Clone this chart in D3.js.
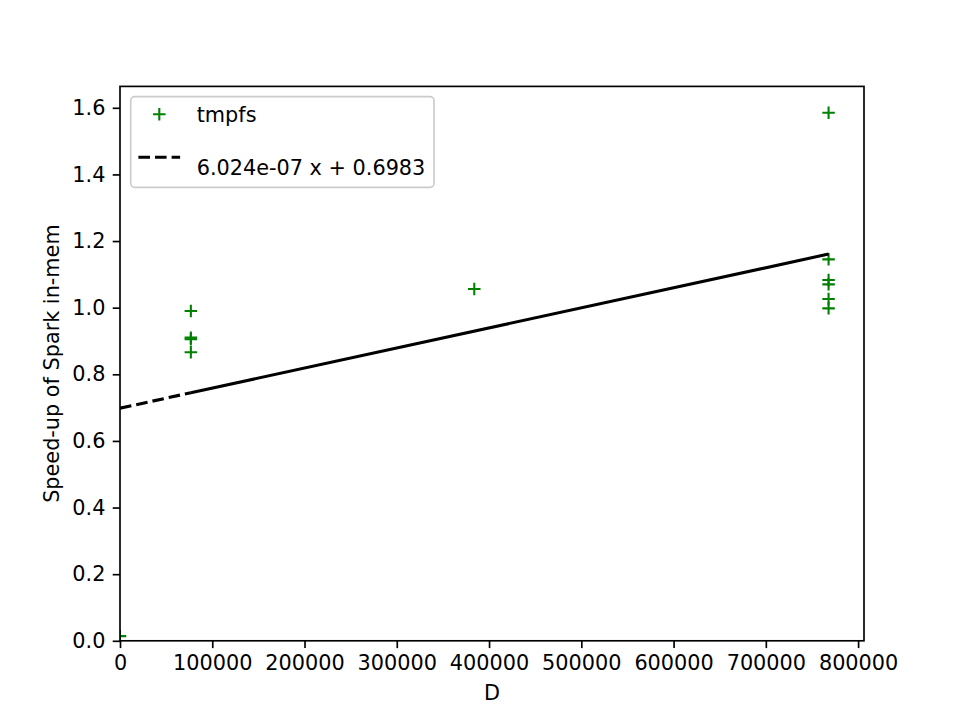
<!DOCTYPE html>
<html>
<head>
<meta charset="utf-8">
<script src="https://cdn.jsdelivr.net/npm/d3@7"></script>
<style>
  body { margin: 0; background: #fff; }
  svg { font-family: "DejaVu Sans", sans-serif; }
</style>
</head>
<body>
<svg id="chart" width="960" height="720"></svg>
<script>
var pointsX = [0, 76800, 76800, 76800, 76800, 384000, 768000, 768000, 768000, 768000, 768000, 768000];
var pointsY = [0.014, 0.99, 0.91, 0.905, 0.866, 1.056, 1.585, 1.145, 1.083, 1.070, 1.026, 0.998];
var seriesName = "tmpfs";
var fitSlope = 6.024e-07;
var fitIntercept = 0.6983;
var fitLabel = "6.024e-07 x + 0.6983";
var xTicks = [0, 100000, 200000, 300000, 400000, 500000, 600000, 700000, 800000];
var yTicks = [0, 0.2, 0.4, 0.6, 0.8, 1.0, 1.2, 1.4, 1.6];

var margin = { top: 86.4, right: 96, bottom: 79.2, left: 120 };
var width = 960 - margin.left - margin.right;
var height = 720 - margin.top - margin.bottom;
var green = "#008000";
var fontSize = 20.8;
var lineW = 3.1;
var dash = "11.6,5";

var svg = d3.select("#chart");

var xMax = d3.max(pointsX);
var yMax = d3.max(pointsY);
var x = d3.scaleLinear().domain([0, xMax * 1.05]).range([0, width]);
var y = d3.scaleLinear().domain([0, yMax * 1.05]).range([height, 0]);

svg.append("defs").append("clipPath").attr("id", "clip")
    .append("rect").attr("width", width).attr("height", height);

var g = svg.append("g")
    .attr("transform", "translate(" + margin.left + "," + margin.top + ")");

var plot = g.append("g").attr("clip-path", "url(#clip)");

// plus markers
var half = 6.25;
function plus(cx, cy) {
    return "M" + (cx - half) + "," + cy + "H" + (cx + half) +
           "M" + cx + "," + (cy - half) + "V" + (cy + half);
}
plot.selectAll("path.pt")
    .data(pointsX.map((d, i) => [d, pointsY[i]]))
    .enter().append("path")
    .attr("class", "pt")
    .attr("d", d => plus(x(d[0]), y(d[1])))
    .attr("stroke", green)
    .attr("stroke-width", 2.08)
    .attr("fill", "none");

// fitted line: dashed before the first nonzero D, solid across the data
var xFirst = d3.min(pointsX.filter(d => d > 0));
var fit = d => fitSlope * d + fitIntercept;
var line = d3.line().x(d => x(d)).y(d => y(fit(d)));

plot.append("path")
    .attr("d", line([0, xFirst]))
    .attr("stroke", "#000")
    .attr("stroke-width", lineW)
    .attr("stroke-dasharray", dash)
    .attr("fill", "none");

plot.append("path")
    .attr("d", line([xFirst, xMax]))
    .attr("stroke", "#000")
    .attr("stroke-width", lineW)
    .attr("fill", "none");

// axes
var xAxis = g.append("g")
    .attr("transform", "translate(0," + height + ")")
    .call(d3.axisBottom(x).tickValues(xTicks).tickFormat(d3.format("d"))
        .tickSizeInner(7.3).tickSizeOuter(0).tickPadding(7.3));

var yAxis = g.append("g")
    .call(d3.axisLeft(y).tickValues(yTicks).tickFormat(d3.format(".1f"))
        .tickSizeInner(7.3).tickSizeOuter(0).tickPadding(7.3));

[xAxis, yAxis].forEach(function (a) {
    a.selectAll("text").style("font-size", fontSize + "px")
        .style("font-family", "DejaVu Sans").attr("fill", "#000");
    a.selectAll("line").attr("stroke", "#000").attr("stroke-width", 1.67);
    a.select(".domain").remove();
});

// spines
g.append("rect")
    .attr("width", width).attr("height", height)
    .attr("fill", "none").attr("stroke", "#000").attr("stroke-width", 1.67);

// axis labels
g.append("text")
    .attr("x", width / 2)
    .attr("y", height + 59.2)
    .attr("text-anchor", "middle")
    .style("font-size", fontSize + "px")
    .text("D");

g.append("text")
    .attr("transform", "rotate(-90)")
    .attr("x", -height / 2)
    .attr("y", -61)
    .attr("text-anchor", "middle")
    .style("font-size", fontSize + "px")
    .text("Speed-up of Spark in-mem");

// legend
var legend = svg.append("g").attr("transform", "translate(130.7,96.7)");
legend.append("rect")
    .attr("width", 303.3).attr("height", 90.6)
    .attr("rx", 4).attr("ry", 4)
    .attr("fill", "#fff").attr("fill-opacity", 0.8)
    .attr("stroke", "#cccccc").attr("stroke-width", 1.67);

legend.append("path")
    .attr("d", plus(28.6, 17.6))
    .attr("stroke", green).attr("stroke-width", 2.08).attr("fill", "none");
legend.append("text")
    .attr("x", 66).attr("y", 25)
    .style("font-size", fontSize + "px")
    .text(seriesName);

legend.append("line")
    .attr("x1", 7.7).attr("x2", 49.4)
    .attr("y1", 60.6).attr("y2", 60.6)
    .attr("stroke", "#000").attr("stroke-width", lineW)
    .attr("stroke-dasharray", dash);
legend.append("text")
    .attr("x", 66).attr("y", 78.3)
    .style("font-size", fontSize + "px")
    .text(fitLabel);
</script>
</body>
</html>
